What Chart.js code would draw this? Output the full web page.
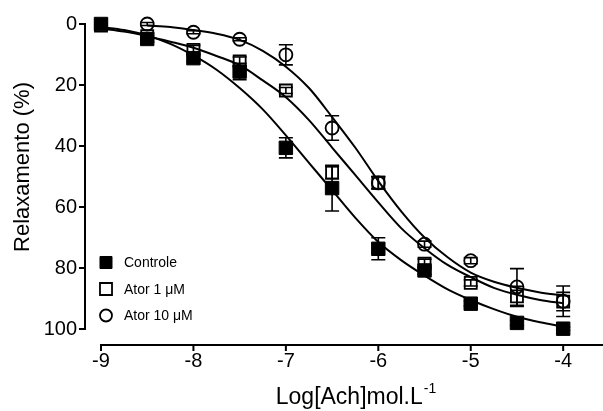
<!DOCTYPE html>
<html>
<head>
<meta charset="utf-8">
<script src="https://cdn.jsdelivr.net/npm/chart.js@4.4.0/dist/chart.umd.min.js"></script>
<style>
  html, body { margin: 0; padding: 0; background: #fff; }
</style>
</head>
<body>
<canvas id="grafico" width="603" height="411"></canvas>
<script>
// Eixos
const xTicks = [-9, -8, -7, -6, -5, -4];
const yTicks = [0, 20, 40, 60, 80, 100];

// Pontos experimentais (média e erro)
const doseControle = [-9, -8.5, -8, -7.5, -7, -6.5, -6, -5.5, -5, -4.5, -4];
const relaxControle = [0, 4.9, 11.2, 15.6, 40.6, 53.8, 73.7, 80.8, 91.7, 98, 99.9];
const erroControle = [0.5, 1, 1.2, 2.7, 3.3, 7.5, 3.6, 1.2, 0.8, 0.8, 0.5];

const doseAtor1 = [-9, -8.5, -8, -7.5, -7, -6.5, -6, -5.5, -5, -4.5, -4];
const relaxAtor1 = [0.5, 4, 8.5, 12.3, 21.8, 48.7, 52, 78.6, 84.9, 89.3, 91];
const erroAtor1 = [0.5, 1, 1.5, 1.5, 1, 2, 2, 1.5, 1, 3.3, 3];

const doseAtor10 = [-8.5, -8, -7.5, -7, -6.5, -6, -5.5, -5, -4.5, -4];
const relaxAtor10 = [0, 2.7, 5, 10.1, 34.1, 52.1, 72.2, 77.6, 86.2, 90.9];
const erroAtor10 = [0.5, 0.5, 0.5, 3.3, 4, 2, 1, 1, 6, 5];

// Curvas ajustadas
const curvaDose = [-9, -8.75, -8.5, -8.25, -8, -7.75, -7.5, -7.25, -7, -6.75, -6.5,
                   -6.25, -6, -5.75, -5.5, -5.25, -5, -4.75, -4.5, -4.25, -4];
const curvaControle = [1, 2, 3.8, 6.5, 10.3, 15, 21, 28, 36.5, 45.5, 54.5,
                       63.5, 71.5, 77.5, 82.5, 87, 90.5, 93.5, 96, 97.8, 99.2];
const curvaAtor1 = [1.5, 2.5, 4, 5.8, 7.8, 10.5, 13.5, 18.5, 24, 31.5, 40.5,
                    49.5, 58.5, 67, 73.5, 79, 83, 86.5, 88.8, 90.5, 91.6];
const curvaAtor10 = [null, null, 0.5, 1, 2, 3.2, 5.2, 8.8, 14, 21, 30.5,
                     40.5, 51.5, 61.5, 70, 76.5, 81.5, 84.5, 86.5, 88, 89];

const fonte = 'Liberation Sans, Arial, sans-serif';

function pontos(xs, ys) {
    return xs.map((v, i) => ({ x: v, y: ys[i] })).filter(p => p.y !== null);
}

const series = [
    { dose: doseControle, relax: relaxControle, erro: erroControle },
    { dose: doseAtor1, relax: relaxAtor1, erro: erroAtor1 },
    { dose: doseAtor10, relax: relaxAtor10, erro: erroAtor10 }
];

function curva(ys) {
    return {
        type: 'line',
        data: pontos(curvaDose, ys),
        borderColor: '#000',
        borderWidth: 2,
        pointRadius: 0,
        cubicInterpolationMode: 'monotone',
        fill: false,
        clip: false,
        order: 5
    };
}

// Barras de erro, desenhadas antes dos símbolos
const barrasErro = {
    id: 'barrasErro',
    beforeDatasetsDraw(chart) {
        const { ctx, scales: { x, y } } = chart;
        ctx.save();
        ctx.strokeStyle = '#000';
        ctx.lineWidth = 1.6;
        series.forEach(s => {
            s.dose.forEach((d, i) => {
                const px = x.getPixelForValue(d);
                const top = y.getPixelForValue(s.relax[i] - s.erro[i]);
                const bot = y.getPixelForValue(s.relax[i] + s.erro[i]);
                ctx.beginPath();
                ctx.moveTo(px, top); ctx.lineTo(px, bot);
                ctx.moveTo(px - 7, top); ctx.lineTo(px + 7, top);
                ctx.moveTo(px - 7, bot); ctx.lineTo(px + 7, bot);
                ctx.stroke();
            });
        });
        ctx.restore();
    }
};

// Eixos separados da área (estilo Prism), títulos e legenda
const eixos = {
    id: 'eixos',
    afterDraw(chart) {
        const { ctx, chartArea, scales: { x, y } } = chart;
        ctx.save();
        ctx.strokeStyle = '#000';
        ctx.lineWidth = 2;

        // eixo y
        const ex = chartArea.left - 16;
        ctx.beginPath();
        ctx.moveTo(ex, y.getPixelForValue(yTicks[0]) - 1);
        ctx.lineTo(ex, y.getPixelForValue(yTicks[yTicks.length - 1]) + 1);
        yTicks.forEach(v => {
            const p = y.getPixelForValue(v);
            ctx.moveTo(ex + 1, p);
            ctx.lineTo(ex - 6, p);
        });
        ctx.stroke();

        // eixo x
        const ey = chartArea.bottom + 16;
        ctx.beginPath();
        ctx.moveTo(x.getPixelForValue(xTicks[0]) - 1, ey);
        ctx.lineTo(chartArea.right + 1, ey);
        xTicks.forEach(v => {
            const p = x.getPixelForValue(v);
            ctx.moveTo(p, ey - 1);
            ctx.lineTo(p, ey + 6);
        });
        ctx.stroke();

        // títulos
        ctx.fillStyle = '#000';
        ctx.font = '23px ' + fonte;
        ctx.textBaseline = 'alphabetic';
        const principal = 'Log[Ach]mol.L';
        const sup = '-1';
        const w1 = ctx.measureText(principal).width;
        ctx.font = '14px ' + fonte;
        const w2 = ctx.measureText(sup).width;
        const cx = (chartArea.left + chartArea.right) / 2 + 4;
        const x0 = cx - (w1 + w2) / 2;
        ctx.font = '23px ' + fonte;
        ctx.textAlign = 'left';
        ctx.fillText(principal, x0, 404);
        ctx.font = '14px ' + fonte;
        ctx.fillText(sup, x0 + w1 + 1, 393);

        ctx.save();
        ctx.translate(23, 167);
        ctx.rotate(-Math.PI / 2);
        ctx.font = '22px ' + fonte;
        ctx.textAlign = 'center';
        ctx.textBaseline = 'middle';
        ctx.fillText('Relaxamento (%)', 0, 0);
        ctx.restore();

        // legenda
        const simbolos = chart.data.datasets.filter(d => d.type === 'scatter');
        simbolos.forEach((d, i) => {
            const lx = chartArea.left + 5;
            const ly = 262.5 + i * 26.5;
            ctx.fillStyle = d.backgroundColor;
            ctx.strokeStyle = d.borderColor;
            ctx.lineWidth = d.borderWidth;
            Chart.helpers.drawPoint(ctx, {
                pointStyle: d.pointStyle,
                radius: d.pointStyle === 'rect' ? 8.5 : 6,
                rotation: 0,
                borderWidth: d.borderWidth
            }, lx, ly);
            ctx.fillStyle = '#000';
            ctx.font = '14px ' + fonte;
            ctx.textAlign = 'left';
            ctx.textBaseline = 'middle';
            ctx.fillText(d.label, chartArea.left + 23, ly + 1);
        });
        ctx.restore();
    }
};

new Chart(document.getElementById('grafico').getContext('2d'), {
    data: {
        datasets: [
            {
                type: 'scatter', label: 'Controle',
                data: pontos(doseControle, relaxControle),
                pointStyle: 'rect', pointRadius: 9.5,
                backgroundColor: '#000', borderColor: '#000', borderWidth: 1,
                clip: false, order: 0
            },
            {
                type: 'scatter', label: 'Ator 1 μM',
                data: pontos(doseAtor1, relaxAtor1),
                pointStyle: 'rect', pointRadius: 8.5,
                backgroundColor: 'rgba(0,0,0,0)', borderColor: '#000', borderWidth: 1.8,
                clip: false, order: 1
            },
            {
                type: 'scatter', label: 'Ator 10 μM',
                data: pontos(doseAtor10, relaxAtor10),
                pointStyle: 'circle', pointRadius: 6.5,
                backgroundColor: 'rgba(0,0,0,0)', borderColor: '#000', borderWidth: 1.8,
                clip: false, order: 2
            },
            curva(curvaControle),
            curva(curvaAtor1),
            curva(curvaAtor10)
        ]
    },
    options: {
        responsive: false,
        animation: false,
        layout: { autoPadding: false, padding: { top: 24, right: 1, left: 0, bottom: 0 } },
        plugins: { legend: { display: false }, tooltip: { enabled: false } },
        scales: {
            x: {
                type: 'linear', min: -9, max: -3.58,
                afterBuildTicks: s => { s.ticks = xTicks.map(v => ({ value: v })); },
                afterFit: s => { s.height = 82; s.paddingLeft = 0; s.paddingRight = 0; },
                grid: { display: false, drawTicks: false },
                border: { display: false },
                ticks: {
                    padding: 20, color: '#000', maxRotation: 0,
                    font: { family: fonte, size: 20 },
                    callback: v => String(v)
                }
            },
            y: {
                type: 'linear', min: 0, max: 100, reverse: true,
                afterBuildTicks: s => { s.ticks = yTicks.map(v => ({ value: v })); },
                afterFit: s => { s.width = 101; s.paddingTop = 0; s.paddingBottom = 0; },
                grid: { display: false, drawTicks: false },
                border: { display: false },
                ticks: {
                    padding: 24, color: '#000',
                    font: { family: fonte, size: 20 },
                    callback: v => String(v)
                }
            }
        }
    },
    plugins: [barrasErro, eixos]
});
</script>
</body>
</html>
